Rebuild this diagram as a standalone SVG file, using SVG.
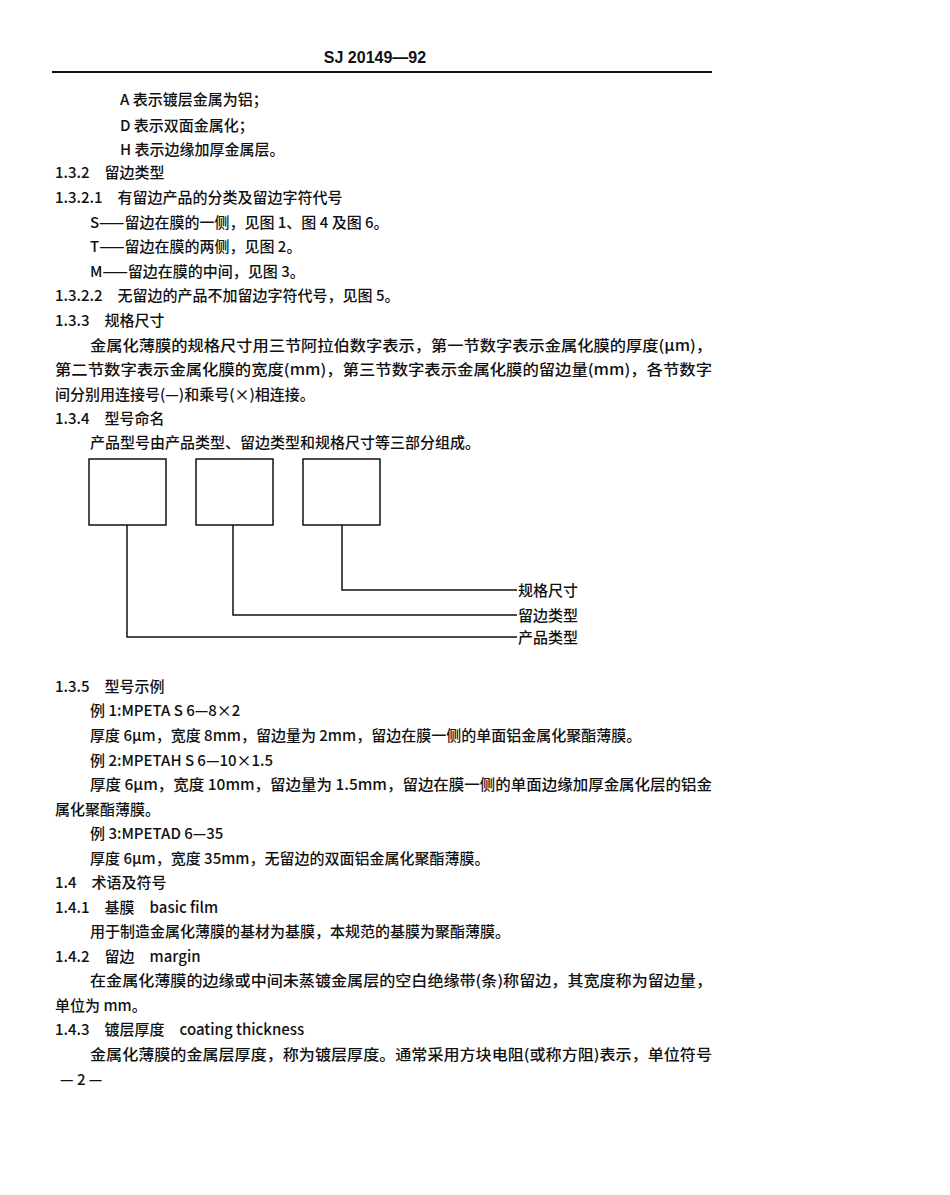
<svg xmlns="http://www.w3.org/2000/svg" width="950" height="1195" viewBox="0 0 950 1195">
<style>
text{font-family:"Noto Sans CJK SC","Liberation Serif",sans-serif;font-size:15px;fill:#111;font-weight:500}
.h{font-family:"Liberation Sans Narrow","Liberation Sans",sans-serif;font-size:16px;font-weight:bold}
.box{fill:none;stroke:#111;stroke-width:1.5}
.ln{fill:none;stroke:#111;stroke-width:1.5}
</style>
<rect width="950" height="1195" fill="#fff"/>
<text class="h" x="375" y="63" text-anchor="middle">SJ 20149—92</text>
<line x1="52" y1="72" x2="712" y2="72" stroke="#111" stroke-width="2.2"/>
<text x="120" y="105">A 表示镀层金属为铝；</text>
<text x="120" y="131">D 表示双面金属化；</text>
<text x="120" y="155">H 表示边缘加厚金属层。</text>
<text x="55" y="178">1.3.2　留边类型</text>
<text x="55" y="203">1.3.2.1　有留边产品的分类及留边字符代号</text>
<text x="90" y="228">S——留边在膜的一侧，见图 1、图 4 及图 6。</text>
<text x="90" y="252">T——留边在膜的两侧，见图 2。</text>
<text x="90" y="277">M——留边在膜的中间，见图 3。</text>
<text x="55" y="301">1.3.2.2　无留边的产品不加留边字符代号，见图 5。</text>
<text x="55" y="326">1.3.3　规格尺寸</text>
<text x="90" y="351" textLength="622" lengthAdjust="spacingAndGlyphs">金属化薄膜的规格尺寸用三节阿拉伯数字表示，第一节数字表示金属化膜的厚度(μm)，</text>
<text x="55" y="375" textLength="657" lengthAdjust="spacingAndGlyphs">第二节数字表示金属化膜的宽度(mm)，第三节数字表示金属化膜的留边量(mm)，各节数字</text>
<text x="55" y="400">间分别用连接号(—)和乘号(×)相连接。</text>
<text x="55" y="424">1.3.4　型号命名</text>
<text x="90" y="448">产品型号由产品类型、留边类型和规格尺寸等三部分组成。</text>
<g id="box1"><rect class="box" x="89" y="459" width="77" height="66"/></g>
<g id="box2"><rect class="box" x="196" y="459" width="77" height="66"/></g>
<g id="box3"><rect class="box" x="303" y="459" width="77" height="66"/></g>
<g id="connectors">
<polyline class="ln" points="342,525 342,590 517,590"/>
<polyline class="ln" points="233,525 233,615 517,615"/>
<polyline class="ln" points="127,525 127,637 517,637"/>
</g>
<g id="labels">
<text x="518" y="596">规格尺寸</text>
<text x="518" y="621">留边类型</text>
<text x="518" y="643">产品类型</text>
</g>
<text x="55" y="692">1.3.5　型号示例</text>
<text x="90" y="716">例 1:MPETA S 6—8×2</text>
<text x="90" y="741">厚度 6μm，宽度 8mm，留边量为 2mm，留边在膜一侧的单面铝金属化聚酯薄膜。</text>
<text x="90" y="766">例 2:MPETAH S 6—10×1.5</text>
<text x="90" y="790" textLength="622" lengthAdjust="spacingAndGlyphs">厚度 6μm，宽度 10mm，留边量为 1.5mm，留边在膜一侧的单面边缘加厚金属化层的铝金</text>
<text x="55" y="815">属化聚酯薄膜。</text>
<text x="90" y="839">例 3:MPETAD 6—35</text>
<text x="90" y="864">厚度 6μm，宽度 35mm，无留边的双面铝金属化聚酯薄膜。</text>
<text x="55" y="888">1.4　术语及符号</text>
<text x="55" y="913">1.4.1　基膜　basic film</text>
<text x="90" y="937">用于制造金属化薄膜的基材为基膜，本规范的基膜为聚酯薄膜。</text>
<text x="55" y="962">1.4.2　留边　margin</text>
<text x="90" y="986" textLength="622" lengthAdjust="spacingAndGlyphs">在金属化薄膜的边缘或中间未蒸镀金属层的空白绝缘带(条)称留边，其宽度称为留边量，</text>
<text x="55" y="1011">单位为 mm。</text>
<text x="55" y="1035">1.4.3　镀层厚度　coating thickness</text>
<text x="90" y="1060" textLength="622" lengthAdjust="spacingAndGlyphs">金属化薄膜的金属层厚度，称为镀层厚度。通常采用方块电阻(或称方阻)表示，单位符号</text>
<text x="60" y="1085">— 2 —</text>
</svg>
